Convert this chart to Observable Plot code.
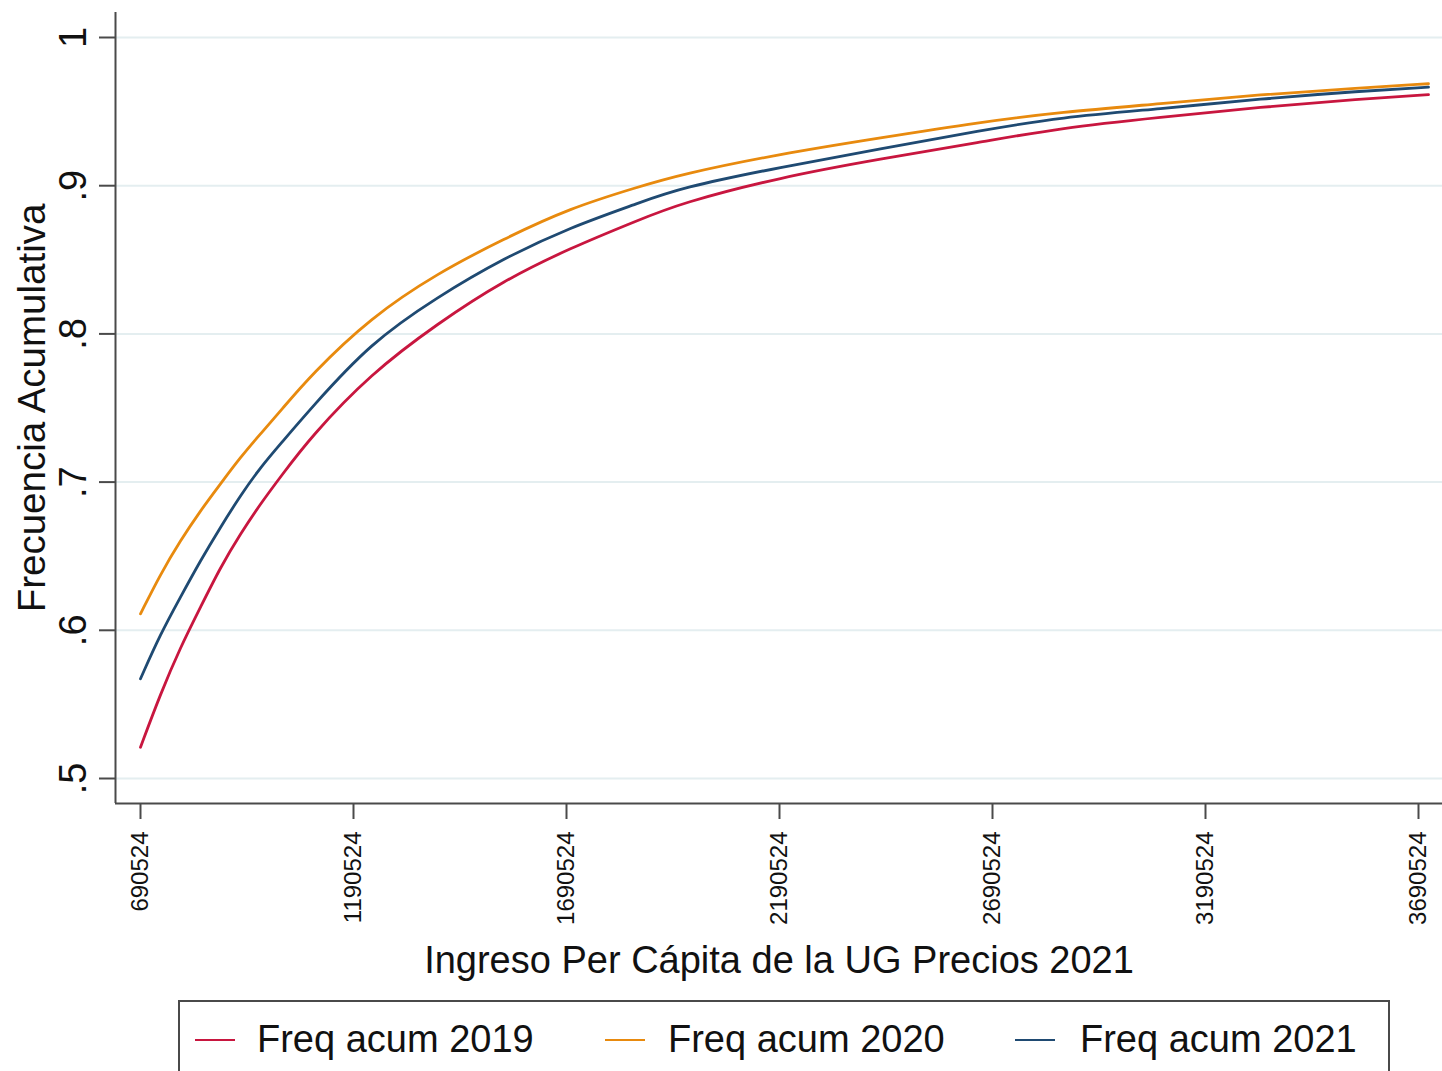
<!DOCTYPE html>
<html>
<head>
<meta charset="utf-8">
<script src="https://cdn.jsdelivr.net/npm/d3@7"></script>
<script src="https://cdn.jsdelivr.net/npm/@observablehq/plot@0.6"></script>
<style>
  body { margin: 0; background: #fff; font-family: "Liberation Sans", Arial, sans-serif; }
  #chart svg { display: block; }
  #legend { position: absolute; left: 178px; top: 1000px; width: 1212px; height: 110px;
            border: 2px solid #4a4a4a; box-sizing: border-box; background: #fff; }
  .sw { position: absolute; top: 37px; width: 40px; height: 0; border-top: 2px solid; }
  .lb { position: absolute; top: 18px; font-size: 38px; line-height: 38px; color: #111; white-space: nowrap; }
</style>
</head>
<body>
<div id="chart"></div>
<div id="legend"></div>
<script>
// Income per capita (x) where curves were read
const income = [690524, 737500, 784400, 831400, 878300, 925300, 972200, 1019200, 1089600, 1230400,
                1387700, 1542600, 1699900, 1857200, 1958100, 2192900, 2427600, 2662300, 2850100,
                3084900, 3319600, 3554400, 3714000];
const freq2019 = [0.5211, 0.5572, 0.5886, 0.6156, 0.6426, 0.6651, 0.6854, 0.7035, 0.7303, 0.773,
                  0.807, 0.836, 0.858, 0.8765, 0.8882, 0.9057, 0.9181, 0.9293, 0.939,
                  0.9462, 0.953, 0.9586, 0.9615];
const freq2020 = [0.6111, 0.638, 0.6606, 0.6808, 0.6988, 0.7168, 0.7326, 0.748, 0.772, 0.811,
                  0.841, 0.864, 0.885, 0.899, 0.9076, 0.9215, 0.9323, 0.9429, 0.9496,
                  0.9553, 0.9615, 0.966, 0.9688];
const freq2021 = [0.5673, 0.5976, 0.6224, 0.6471, 0.6696, 0.691, 0.71, 0.7258, 0.7495, 0.794,
                  0.825, 0.851, 0.872, 0.888, 0.8986, 0.9125, 0.9249, 0.9372, 0.9462,
                  0.9519, 0.9586, 0.9638, 0.9665];
const seriesNames = ["Freq acum 2019", "Freq acum 2020", "Freq acum 2021"];
const seriesColors = ["#C8163F", "#E88A0E", "#1F4A72"];
const xTicks = [690524, 1190524, 1690524, 2190524, 2690524, 3190524, 3690524];
const yTicks = [0.5, 0.6, 0.7, 0.8, 0.9, 1];
const yTickLabels = [".5", ".6", ".7", ".8", ".9", "1"];
const xTitle = "Ingreso Per Cápita de la UG Precios 2021";
const yTitle = "Frecuencia Acumulativa";

const seriesValues = [freq2019, freq2020, freq2021];
const data = [];
seriesNames.forEach((name, s) => income.forEach((x, i) => data.push({x, y: seriesValues[s][i], serie: name})));

const xDomain = [631839, 3746862];
const yDomain = [0.48313, 1.01687];
const axisColor = "#4a4a4a";

const chart = Plot.plot({
  width: 1442,
  height: 990,
  marginTop: 12,
  marginLeft: 115,
  marginRight: 0,
  marginBottom: 187,
  style: {fontFamily: "'Liberation Sans', Arial, sans-serif", color: "#111", background: "#fff"},
  x: {domain: xDomain},
  y: {domain: yDomain},
  color: {domain: seriesNames, range: seriesColors},
  marks: [
    Plot.ruleY(yTicks, {stroke: "#E4EEF0", strokeWidth: 2}),
    Plot.axisY({ticks: yTicks, tickSize: 16, tickPadding: 14, tickRotate: -90, fontSize: 38,
                stroke: axisColor, strokeWidth: 2, strokeOpacity: 1,
                tickFormat: d => yTickLabels[yTicks.indexOf(d)], label: null}),
    Plot.axisX({ticks: xTicks, tickSize: 16, tickPadding: 12, tickRotate: -90, fontSize: 24,
                stroke: axisColor, strokeWidth: 2, strokeOpacity: 1,
                tickFormat: d => String(d), label: null}),
    Plot.line(data, {x: "x", y: "y", z: "serie", stroke: "serie", strokeWidth: 2.8, curve: "basis"}),
    Plot.ruleX([xDomain[0]], {stroke: axisColor, strokeWidth: 2}),
    Plot.ruleY([yDomain[0]], {stroke: axisColor, strokeWidth: 2}),
    Plot.text([xTitle], {frameAnchor: "bottom", dy: 169, lineAnchor: "bottom", fontSize: 38, fill: "#111"}),
    Plot.text([yTitle], {frameAnchor: "left", dx: -71, rotate: -90, lineAnchor: "bottom", textAnchor: "middle", fontSize: 38.5, fill: "#111"})
  ]
});
document.getElementById("chart").appendChild(chart);

// Legend
const legend = document.getElementById("legend");
const swLeft = [15, 425, 835];
const lbLeft = [77, 488, 900];
seriesNames.forEach((name, i) => {
  const sw = document.createElement("div");
  sw.className = "sw";
  sw.style.left = swLeft[i] + "px";
  sw.style.borderTopColor = seriesColors[i];
  legend.appendChild(sw);
  const lb = document.createElement("div");
  lb.className = "lb";
  lb.style.left = lbLeft[i] + "px";
  lb.textContent = name;
  legend.appendChild(lb);
});
</script>
</body>
</html>
